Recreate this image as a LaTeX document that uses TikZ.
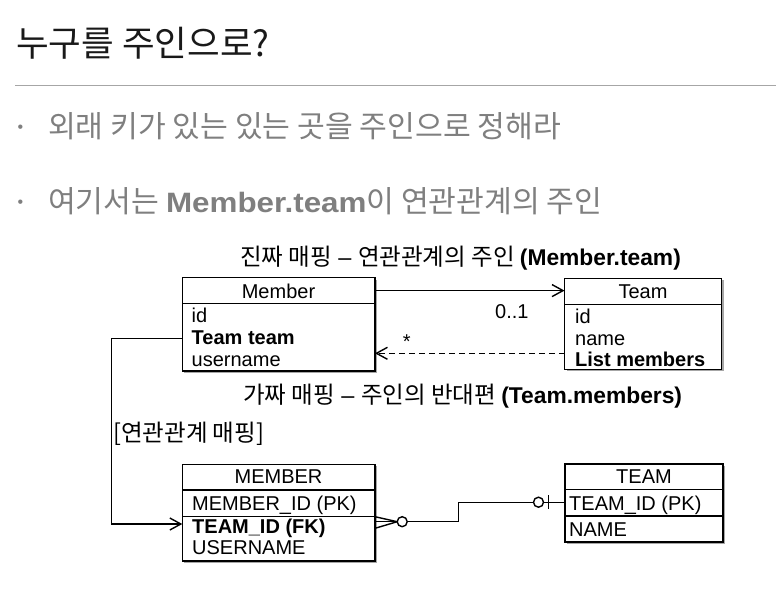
\documentclass[tikz,border=0pt]{standalone}
\usepackage{fontspec}
\setmainfont{Liberation Sans}
\newfontfamily\kr{Noto Sans CJK KR}
\newfontfamily\latwide[FakeStretch=1.12]{Liberation Sans}
\usetikzlibrary{arrows.meta,shadows}
\definecolor{bulletgray}{HTML}{7F7F7F}
\definecolor{rulegray}{HTML}{A6A6A6}
\begin{document}
\begin{tikzpicture}[x=1pt,y=-1pt,
  ebox/.style={draw,line width=1.6pt,fill=white,rectangle,inner sep=0pt,outer sep=0pt,anchor=north west,
    drop shadow={shadow xshift=2pt,shadow yshift=-2pt,opacity=0.35,fill=black}},
  sepline/.style={line width=1.3pt},
  btxt/.style={inner sep=0pt,anchor=base west,font=\fontsize{20}{24}\selectfont},
  bbold/.style={inner sep=0pt,anchor=base west,font=\fontsize{20}{24}\selectfont\bfseries},
  bhead/.style={inner sep=0pt,anchor=base,font=\fontsize{20}{24}\selectfont},
  lbl/.style={inner sep=0pt,anchor=base west,font=\fontsize{23.5}{28}\selectfont},
  bul/.style={inner sep=0pt,anchor=base,text=bulletgray,font=\fontsize{16}{18}\selectfont},
  bultxt/.style={inner sep=0pt,anchor=base west,text=bulletgray,font=\kr\fontsize{30.2}{34}\selectfont},
  conn/.style={line width=1.4pt},
  arr/.style={conn,-{Straight Barb[length=11pt,width=12pt]}},
  ring/.style={circle,draw,line width=1.4pt,fill=white,minimum size=10pt,inner sep=0pt,outer sep=0pt},
]
\fill[white] (0,0) rectangle (776,592);
\useasboundingbox (0,0) rectangle (776,592);

% title and bullets
\node[inner sep=0pt,anchor=base west,font=\kr\fontsize{35.5}{40}\selectfont,text=black!90] (title) at (16,56) {누구를 주인으로?};
\draw[rulegray,line width=1.5pt] (15,85.3) -- (776,85.3);
\node[bul] (b1) at (20.5,132.5) {•};
\node[bultxt] (t1) at (48,137) {외래 키가 있는 있는 곳을 주인으로 정해라};
\node[bul] (b2) at (20.5,207.5) {•};
\node[bultxt] (t2) at (48,212) {여기서는 {\latwide\bfseries\fontsize{28}{32}\selectfont Member.team}이 연관관계의 주인};

% boxes
\node[ebox,minimum width=192.7pt,minimum height=93.5pt] (member) at (182.3,277.5) {};
\node[ebox,minimum width=157pt,minimum height=91pt] (team) at (564.5,278.3) {};
\node[ebox,minimum width=192.7pt,minimum height=96.7pt] (mem2) at (182.3,464.3) {};
\node[ebox,minimum width=158pt,minimum height=78pt] (team2) at (565,464) {};

\draw[sepline] ([yshift=-26pt]member.north west) -- ([yshift=-26pt]member.north east);
\draw[sepline] ([yshift=-26pt]team.north west) -- ([yshift=-26pt]team.north east);
\draw[sepline] ([yshift=-25.7pt]mem2.north west) -- ([yshift=-25.7pt]mem2.north east);
\draw[sepline] ([yshift=-52.2pt]mem2.north west) -- ([yshift=-52.2pt]mem2.north east);
\draw[sepline] ([yshift=-25.3pt]team2.north west) -- ([yshift=-25.3pt]team2.north east);
\draw[sepline] ([yshift=-52pt]team2.north west) -- ([yshift=-52pt]team2.north east);

% box texts
\node[bhead] (memberH) at (278.5,298) {Member};
\node[btxt] (mId) at (191.5,322) {id};
\node[bbold] (mTeam) at (191.5,344.5) {Team team};
\node[btxt] (mUser) at (191.5,366) {username};

\node[bhead] (teamH) at (643,298) {Team};
\node[btxt] (tId) at (575,323) {id};
\node[btxt] (tName) at (575,345) {name};
\node[bbold] (tList) at (575,366) {List members};

\node[bhead] (mem2H) at (278.5,483.5) {MEMBER};
\node[btxt] (m2Id) at (192,510.5) {MEMBER\_ID (PK)};
\node[bbold] (m2Fk) at (192,533.5) {TEAM\_ID (FK)};
\node[btxt] (m2User) at (192,554.5) {USERNAME};

\node[bhead] (team2H) at (644,483.3) {TEAM};
\node[btxt] (t2Id) at (569,510) {TEAM\_ID (PK)};
\node[btxt] (t2Name) at (569,536) {NAME};

% labels
\node[lbl] (real) at (240,265.5) {\kr 진짜 매핑{\rmfamily\ –\ }연관관계의 주인 {\rmfamily\bfseries\fontsize{22.8}{27}\selectfont (Member.team)}};
\node[lbl] (fake) at (243,403.5) {\kr 가짜 매핑{\rmfamily\ –\ }주인의 반대편 {\rmfamily\bfseries\fontsize{22.8}{27}\selectfont (Team.members)}};
\node[lbl] (maplbl) at (113,441) {\kr [연관관계 매핑]};
\node[btxt] (mult1) at (495,318.5) {0..1};
\node[inner sep=0pt,anchor=base,font=\fontsize{20}{24}\selectfont] (mult2) at (406.7,348.3) {*};

% helper coordinates
\coordinate (yA) at (0,290.6);
\coordinate (yB) at (0,353.3);
\coordinate (yTT) at (0,338.3);
\coordinate (yFK) at (0,524);
\coordinate (xL) at (111.7,0);
\coordinate (cfTop) at (0,516.7);
\coordinate (cfBot) at (0,528.3);
\coordinate (xStep) at (458.5,0);

% object connectors
\draw[arr] (member.east |- yA) -- (team.west |- yA);
\draw[arr,dash pattern=on 6pt off 4pt] (team.west |- yB) -- (member.east |- yB);
\draw[arr] (member.west |- yTT) -| (xL |- yFK) -- (mem2.west |- yFK);

% ER connector
\node[ring] (o1) at (402.2,521.7) {};
\node[ring] (o2) at (538.5,502.2) {};
\draw[conn] (mem2.east |- cfTop) -- (o1.west);
\draw[conn] (mem2.east |- o1) -- (o1.west);
\draw[conn] (mem2.east |- cfBot) -- (o1.west);
\draw[conn] (o1.east) -| (xStep |- o2) -- (o2.west);
\draw[conn] (o2.east) -- (team2.west |- o2);
\draw[conn] ([xshift=10pt,yshift=7pt]o2.center) -- ([xshift=10pt,yshift=-7pt]o2.center);
\end{tikzpicture}
\end{document}
